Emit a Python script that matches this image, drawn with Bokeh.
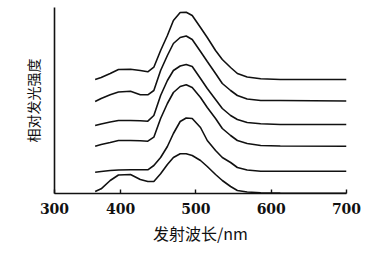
from bokeh.plotting import figure
from bokeh.models import FixedTicker, Range1d
from bokeh.embed import file_html
from bokeh.resources import INLINE

# Emission wavelength grid (nm)
wavelength = [366, 374, 386, 397, 413, 426, 436, 444, 453, 462, 470, 479, 487,
              495, 506, 515, 526, 535, 546, 555, 568, 586, 612, 700]

# Relative luminescence intensity (arbitrary units, stacked spectra, top to bottom)
curve_1 = [114, 116, 120, 124, 124.3, 123, 121.7, 126.3, 143, 158, 173, 181, 181.3,
           178, 166, 156, 143, 134, 126, 120, 116.5, 114.7, 114, 114]
curve_2 = [92, 95, 98.7, 101.5, 102.3, 98.7, 98.7, 103, 123, 138, 150, 156, 157.5,
           154, 142, 132, 120, 110, 103, 98, 94.5, 93, 93, 92.5]
curve_3 = [68, 69.5, 71.5, 73, 73, 72.7, 72.3, 78, 98, 113, 123, 127.5, 129,
           127, 115, 105, 94, 85, 78, 74, 71, 69.7, 69, 69]
curve_4 = [47.3, 49, 51, 53, 53, 52.7, 52.3, 56.3, 75, 90, 101, 107, 108.7,
           106, 96, 86, 75, 65, 58, 53, 50, 48, 47.5, 47.3]
curve_5 = [21.3, 22, 23, 23.5, 23.7, 23.7, 23.7, 28, 36, 47, 60, 72, 75.5,
           75, 66, 53, 43, 36, 31, 26, 23.5, 22.3, 22.3, 22.3]
curve_6 = [2, 4.7, 13, 18.5, 19, 14, 12, 12, 19.7, 29, 36, 39.7, 39.7,
           38, 33, 27, 19, 13, 7, 3, 1.5, 0.7, 0.5, 0.3]

tick_values = [312, 400, 500, 600, 700]
tick_labels = ["300", "400", "500", "600", "700"]

x_title = "发射波长/nm"
y_title = "相对发光强度"

p = figure(width=364, height=250, output_backend="svg", toolbar_location=None,
           x_range=Range1d(312, 700), y_range=Range1d(0, 186))
p.min_border_left = 54
p.min_border_right = 18
p.min_border_top = 7
p.min_border_bottom = 57
p.outline_line_color = None
p.xgrid.visible = False
p.ygrid.visible = False
p.background_fill_color = "white"
p.border_fill_color = "white"

for c in [curve_1, curve_2, curve_3, curve_4, curve_5, curve_6]:
    p.line(wavelength, c, line_color="#111111", line_width=1.6)

xa = p.xaxis[0]
xa.ticker = FixedTicker(ticks=tick_values)
xa.major_label_overrides = {t: l for t, l in zip(tick_values, tick_labels)}
xa.minor_tick_line_color = None
xa.major_tick_in = 4
xa.major_tick_out = 0
xa.axis_line_width = 1.6
xa.axis_line_color = "#111111"
xa.major_tick_line_color = "#111111"
xa.major_tick_line_width = 1.4
xa.major_label_text_font = "DejaVu Serif"
xa.major_label_text_font_style = "bold"
xa.major_label_text_font_size = "14px"
xa.major_label_text_color = "#111111"
xa.major_label_standoff = 9
xa.axis_label = x_title
xa.axis_label_text_font = "Noto Sans CJK SC"
xa.axis_label_text_font_style = "normal"
xa.axis_label_text_font_size = "16px"
xa.axis_label_text_color = "#111111"
xa.axis_label_standoff = 4

ya = p.yaxis[0]
ya.ticker = FixedTicker(ticks=[])
ya.minor_tick_line_color = None
ya.major_tick_line_color = None
ya.major_label_text_font_size = "0px"
ya.axis_line_width = 1.6
ya.axis_line_color = "#111111"
ya.axis_label = y_title
ya.axis_label_text_font = "Noto Sans CJK SC"
ya.axis_label_text_font_style = "normal"
ya.axis_label_text_font_size = "14px"
ya.axis_label_text_color = "#111111"
ya.axis_label_standoff = 12

open("out.html", "w").write(file_html(p, INLINE))
